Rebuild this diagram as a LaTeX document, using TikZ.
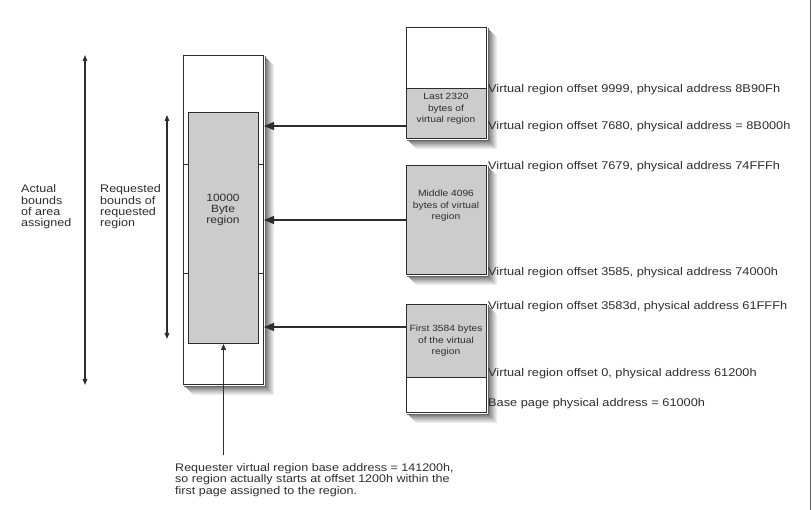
\documentclass[tikz,border=0pt]{standalone}
\usepackage{fontspec}
\setmainfont{Liberation Sans}[FakeStretch=1.14]
\usetikzlibrary{arrows.meta,positioning,calc}
\definecolor{Ink}{RGB}{45,45,45}
\definecolor{Used}{RGB}{204,204,204}
\tikzset{
  >={Triangle[length=10pt,width=8pt]},
  page/.style={draw=Ink,line width=1pt,inner sep=0pt,anchor=north west,minimum width=80pt},
  used/.style={page,fill=Used},
  spare/.style={page,fill=white},
  boxtxt/.style={align=center,inner sep=0pt,text=Ink,font=\fontsize{9}{11.5}\selectfont},
  lbl/.style={anchor=west,inner sep=0pt,align=left,text=Ink,font=\fontsize{11}{11.3}\selectfont},
  addr/.style={lbl,font=\fontsize{11.2}{12}\selectfont},
  ptr/.style={->,draw=Ink,line width=1.1pt},
  rise/.style={-{Triangle[length=6pt,width=5pt]},draw=Ink,line width=1.2pt},
  span/.style={{Triangle[length=6pt,width=4.5pt]}-{Triangle[length=6pt,width=4.5pt]},draw=Ink,line width=1.4pt},
}
\begin{document}
\begin{tikzpicture}[x=1pt,y=-1pt]
  \useasboundingbox (0,0) rectangle (812,510);
  % Assigned area and requested region
  \node[spare,minimum height=329pt] (assigned) at (183,55) {};
  \node[draw=Ink,line width=1pt,fill=Used,inner sep=0pt,anchor=north west,
        minimum width=70pt,minimum height=231pt] (request) at (188,112) {};
  \node[boxtxt,font=\fontsize{10.5}{11}\selectfont] (reqtxt) at (223,210) {10000\\Byte\\region};
  \foreach \y in {165,274} {
      \draw[Ink,line width=1pt] (assigned.west |- 0,\y) -- (request.west |- 0,\y);
      \draw[Ink,line width=1pt] (request.east |- 0,\y) -- (assigned.east |- 0,\y);
    }
  % Bounds on the left
  \draw[span] (85,0 |- assigned.north) -- (85,0 |- assigned.south);
  \draw[span,shorten <=3pt,shorten >=5pt] (167,0 |- request.north) -- (167,0 |- request.south);
  \node[lbl] (actual) at (21,207) {Actual\\bounds\\of area\\assigned};
  \node[lbl] (wanted) at (100,207) {Requested\\bounds of\\requested\\region};
  % Physical pages
  \node[spare,minimum height=61pt] (lasttop) at (406,27) {};
  \node[used,minimum height=50pt] (lastpage) at (406,88) {};
  \node[boxtxt] (lasttxt) at (446,109) {Last 2320\\bytes of\\virtual region};
  \node[used,minimum height=109pt] (midpage) at (406,165) {};
  \node[boxtxt] (midtxt) at (446,206) {Middle 4096\\bytes of virtual\\region};
  \node[used,minimum height=73pt] (firstpage) at (406,304) {};
  \node[spare,minimum height=35pt] (basepage) at (406,377) {};
  \node[boxtxt] (firsttxt) at (446,341) {First 3584 bytes\\of the virtual\\region};
  % Soft shadows: strips right of and under each box
  \foreach \b in {assigned,lasttop,lastpage,midpage,firstpage,basepage} {
      \foreach \d/\g in {10/8,9/13,8/18,7/24,6/30,5/36,4/42,3/48,2/54,1/60} {
          \fill[black!\g] ([shift={(0.6,\d)}]\b.north east) rectangle ([shift={(\d,\d)}]\b.south east);
        }
    }
  \foreach \b in {assigned,lastpage,midpage,basepage} {
      \foreach \d/\g in {10/8,9/13,8/18,7/24,6/30,5/36,4/42,3/48,2/54,1/60} {
          \fill[black!\g] ([shift={(\d,0.6)}]\b.south west) rectangle ([shift={(\d,\d)}]\b.south east);
        }
    }
  % Mapping arrows
  \draw[ptr] (lastpage.west |- 0,126) -- (assigned.east |- 0,126);
  \draw[ptr] (midpage.west) -- (assigned.east |- midpage.west);
  \draw[ptr] (firstpage.west |- 0,327) -- (assigned.east |- 0,327);
  % Offsets and addresses
  \foreach \y/\txt [count=\i] in {
      90/{Virtual region offset 9999, physical address 8B90Fh},
      127/{Virtual region offset 7680, physical address = 8B000h},
      167/{Virtual region offset 7679, physical address 74FFFh},
      273/{Virtual region offset 3585, physical address 74000h},
      307/{Virtual region offset 3583d, physical address 61FFFh},
      374/{Virtual region offset 0, physical address 61200h},
      404/{Base page physical address = 61000h}} {
      \node[addr] (off\i) at (488,\y) {\txt};
    }
  % Base address note
  \node[lbl] (reqnote) at (175,480) {Requester virtual region base address = 141200h,\\
    so region actually starts at offset 1200h within the\\first page assigned to  the region.};
  \draw[rise,shorten <=8pt] (request.south |- reqnote.north) -- (request.south);
  % Frame edge
  \draw[Ink!75,line width=1pt] (810,0) -- (810,510);
\end{tikzpicture}
\end{document}
